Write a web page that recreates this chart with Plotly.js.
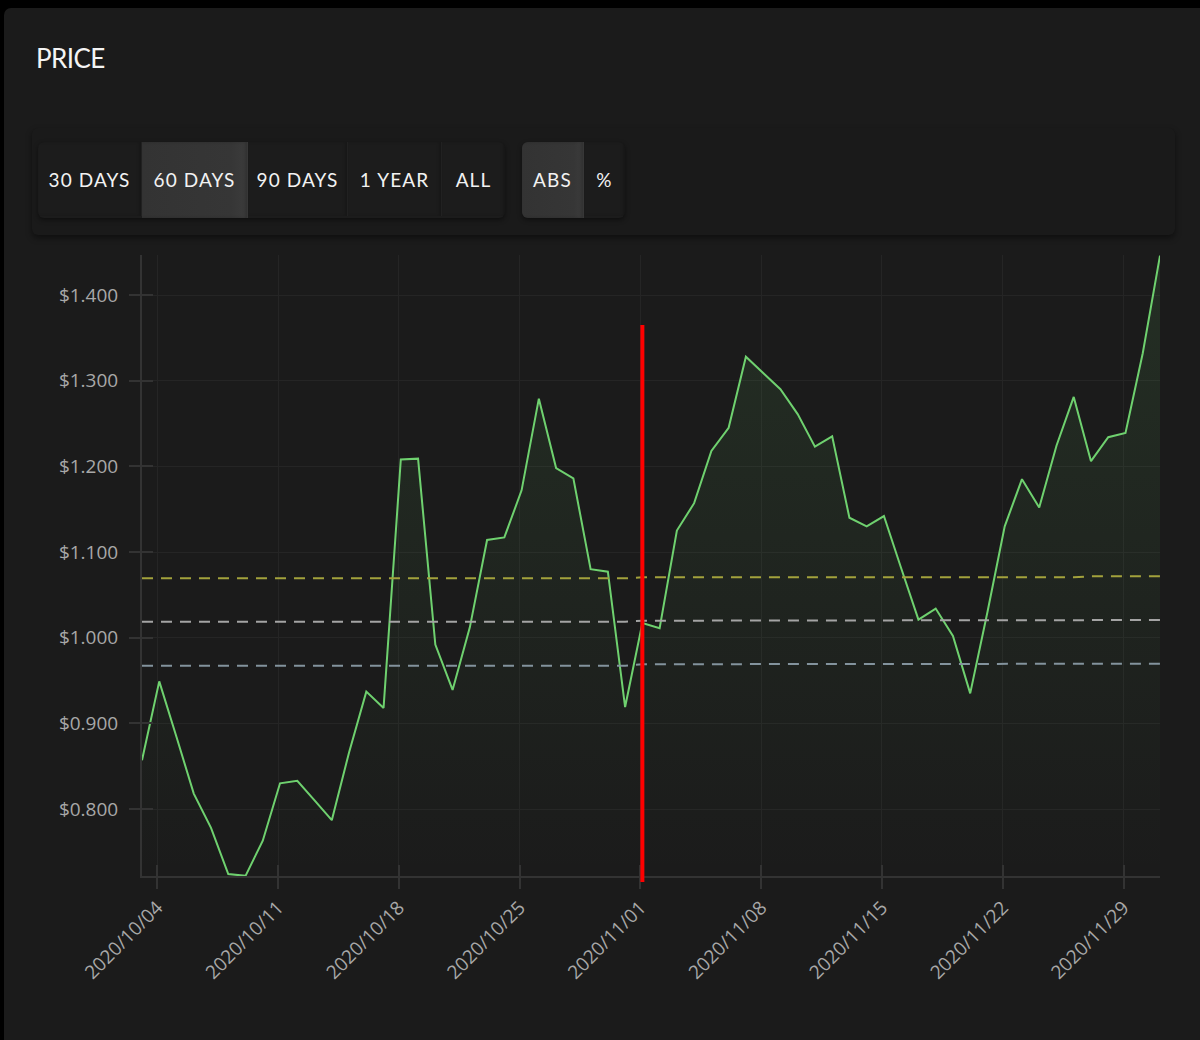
<!DOCTYPE html>
<html>
<head>
<meta charset="utf-8">
<script src="https://cdn.plot.ly/plotly-3.0.1.min.js"></script>
<style>
  html, body { margin: 0; padding: 0; background: #000; width: 1200px; height: 1040px; overflow: hidden; }
  .card { position: absolute; left: 4px; top: 8px; width: 1196px; height: 1032px; background: #1b1b1b; border-radius: 7px 0 0 0; }
  .title { position: absolute; left: 36px; top: 44px; font-family: Lato, "Noto Sans", sans-serif; font-size: 26px; line-height: 28px; color: #f4f4f4; letter-spacing: -0.6px; }
  .toolbar { position: absolute; left: 32px; top: 128px; width: 1143px; height: 107px; background: #1a1a1a; border-radius: 6px; box-shadow: 0 3px 6px rgba(0,0,0,0.45); }
  .group { position: absolute; top: 142px; height: 76px; display: flex; background: #1c1c1c; border-radius: 6px; overflow: hidden; box-shadow: 0 2px 5px rgba(0,0,0,0.45); }
  .btn { height: 74px; display: flex; align-items: center; justify-content: center; font-family: Lato, "Noto Sans", sans-serif; font-size: 19px; letter-spacing: 1.1px; color: #f2f2f2; box-sizing: border-box; border-right: 1px solid rgba(255,255,255,0.025); box-shadow: inset -2px 0 3px rgba(0,0,0,0.18); }
  .btn.active { height: 76px; padding-bottom: 2px; background: linear-gradient(90deg, #333 0%, #363636 85%, #3c3c3c 100%); }
  #plot { position: absolute; left: 0; top: 0; width: 1200px; height: 1040px; }
</style>
</head>
<body>
<div class="card"></div>
<div class="title">PRICE</div>
<div class="toolbar"></div>
<div class="group" style="left:38px; width:467px;">
  <div class="btn" style="width:104px;">30 DAYS</div>
  <div class="btn active" style="width:106px;">60 DAYS</div>
  <div class="btn" style="width:100px;">90 DAYS</div>
  <div class="btn" style="width:94px;">1 YEAR</div>
  <div class="btn" style="width:63px; border-right:none;">ALL</div>
</div>
<div class="group" style="left:522px; width:103px;">
  <div class="btn active" style="width:62px;">ABS</div>
  <div class="btn" style="width:41px; border-right:none;">%</div>
</div>
<div id="plot"></div>
<script>
// ---- data ----
const dates = [
  '2020-10-03 02:45','2020-10-04 02:45','2020-10-05 02:45','2020-10-06 02:45','2020-10-07 02:45',
  '2020-10-08 02:45','2020-10-09 02:45','2020-10-10 02:45','2020-10-11 02:45','2020-10-12 02:45',
  '2020-10-13 02:45','2020-10-14 02:45','2020-10-15 02:45','2020-10-16 02:45','2020-10-17 02:45',
  '2020-10-18 02:45','2020-10-19 02:45','2020-10-20 02:45','2020-10-21 02:45','2020-10-22 02:45',
  '2020-10-23 02:45','2020-10-24 02:45','2020-10-25 02:45','2020-10-26 02:45','2020-10-27 02:45',
  '2020-10-28 02:45','2020-10-29 02:45','2020-10-30 02:45','2020-10-31 02:45','2020-11-01 02:45',
  '2020-11-02 02:45','2020-11-03 02:45','2020-11-04 02:45','2020-11-05 02:45','2020-11-06 02:45',
  '2020-11-07 02:45','2020-11-08 02:45','2020-11-09 02:45','2020-11-10 02:45','2020-11-11 02:45',
  '2020-11-12 02:45','2020-11-13 02:45','2020-11-14 02:45','2020-11-15 02:45','2020-11-16 02:45',
  '2020-11-17 02:45','2020-11-18 02:45','2020-11-19 02:45','2020-11-20 02:45','2020-11-21 02:45',
  '2020-11-22 02:45','2020-11-23 02:45','2020-11-24 02:45','2020-11-25 02:45','2020-11-26 02:45',
  '2020-11-27 02:45','2020-11-28 02:45','2020-11-29 02:45','2020-11-30 02:45','2020-12-01 02:45'
];
const price = [
  0.857, 0.949, 0.884, 0.818, 0.778, 0.724, 0.722, 0.763, 0.830, 0.833,
  0.810, 0.787, 0.866, 0.937, 0.918, 1.208, 1.209, 0.992, 0.939, 1.012,
  1.114, 1.117, 1.172, 1.279, 1.198, 1.186, 1.080, 1.077, 0.919, 1.017,
  1.011, 1.125, 1.157, 1.218, 1.245, 1.328, 1.309, 1.290, 1.261, 1.223,
  1.235, 1.140, 1.130, 1.142, 1.081, 1.021, 1.034, 1.002, 0.935, 1.030,
  1.130, 1.185, 1.152, 1.224, 1.281, 1.206, 1.234, 1.239, 1.332, 1.446
];
const upperBand = [
  1.0693, 1.0693, 1.0693, 1.0693, 1.0693, 1.0693, 1.0693, 1.0693, 1.0693, 1.0693,
  1.0693, 1.0693, 1.0693, 1.0693, 1.0693, 1.0693, 1.0693, 1.0693, 1.0693, 1.0693,
  1.0693, 1.0693, 1.0693, 1.0693, 1.0693, 1.0693, 1.0693, 1.0693, 1.0693, 1.0705,
  1.0705, 1.0705, 1.0705, 1.0705, 1.0705, 1.0705, 1.0705, 1.0705, 1.0705, 1.0705,
  1.0705, 1.0705, 1.0705, 1.0705, 1.0705, 1.0705, 1.0705, 1.0705, 1.0705, 1.0705,
  1.0705, 1.0705, 1.0705, 1.0705, 1.0705, 1.0716, 1.0716, 1.0716, 1.0716, 1.0716
];
const middleBand = [
  1.0186, 1.0186, 1.0186, 1.0186, 1.0186, 1.0186, 1.0186, 1.0186, 1.0186, 1.0186,
  1.0186, 1.0186, 1.0186, 1.0186, 1.0186, 1.0186, 1.0186, 1.0186, 1.0186, 1.0186,
  1.0186, 1.0186, 1.0186, 1.0186, 1.0186, 1.0186, 1.0186, 1.0186, 1.0186, 1.0198,
  1.0198, 1.0198, 1.0198, 1.0198, 1.0198, 1.0198, 1.0198, 1.0198, 1.0198, 1.0198,
  1.0198, 1.0198, 1.0198, 1.0198, 1.0198, 1.0198, 1.0198, 1.0198, 1.0198, 1.0198,
  1.0198, 1.0198, 1.0198, 1.0198, 1.0198, 1.0206, 1.0206, 1.0206, 1.0206, 1.0206
];
const lowerBand = [
  0.9673, 0.9673, 0.9673, 0.9673, 0.9673, 0.9673, 0.9673, 0.9673, 0.9673, 0.9673,
  0.9673, 0.9673, 0.9673, 0.9673, 0.9673, 0.9673, 0.9673, 0.9673, 0.9673, 0.9673,
  0.9673, 0.9673, 0.9673, 0.9673, 0.9673, 0.9673, 0.9673, 0.9673, 0.9673, 0.9690,
  0.9690, 0.9690, 0.9690, 0.9690, 0.9690, 0.9690, 0.9690, 0.9690, 0.9690, 0.9690,
  0.9690, 0.9690, 0.9690, 0.9690, 0.9690, 0.9690, 0.9690, 0.9690, 0.9690, 0.9690,
  0.9690, 0.9690, 0.9690, 0.9690, 0.9690, 0.9696, 0.9696, 0.9696, 0.9696, 0.9696
];
const markerDate = '2020-11-01 02:45';
const markerTop = 1.365;
const yRange = [0.7218, 1.4467];
const xRange = [dates[0], dates[dates.length - 1]];
const tickStart = '2020-10-04';

// ---- chart ----
const bandLine = (y, color) => ({
  x: dates, y: y, type: 'scatter', mode: 'lines', hoverinfo: 'skip',
  line: { color: color, width: 2, dash: '11px,8px' }
});

const traces = [
  {
    x: dates, y: price, type: 'scatter', mode: 'lines', fill: 'tozeroy',
    fillgradient: { type: 'vertical', start: yRange[0], stop: yRange[1],
      colorscale: [[0, 'rgba(110,210,110,0.0)'], [1, 'rgba(110,210,110,0.11)']] },
    line: { color: '#6fd16f', width: 2 }, hoverinfo: 'skip'
  },
  bandLine(upperBand, '#a3a23c'),
  bandLine(middleBand, '#a4a4a4'),
  bandLine(lowerBand, '#83939d'),
  { x: [], y: [], xaxis: 'x2', yaxis: 'y2', type: 'scatter', mode: 'lines', hoverinfo: 'skip' }
];

const tickFont = { family: '"Open Sans", "Noto Sans", sans-serif', size: 19, color: '#a8a8a8' };
const frac = (markerTop - yRange[0]) / (yRange[1] - yRange[0]);

const layout = {
  width: 1200, height: 1040,
  margin: { l: 142, r: 40, t: 255, b: 164 },
  paper_bgcolor: 'rgba(0,0,0,0)', plot_bgcolor: 'rgba(0,0,0,0)',
  showlegend: false,
  xaxis: {
    type: 'date', range: xRange, tick0: tickStart, dtick: 7 * 86400000,
    tickformat: '%Y/%m/%d', tickangle: -45, tickfont: tickFont,
    showgrid: true, gridcolor: '#252525', gridwidth: 1,
    showline: true, linecolor: '#333333', linewidth: 2,
    ticks: 'outside', ticklen: 11, tickcolor: '#333333', tickwidth: 2,
    zeroline: false, fixedrange: true
  },
  yaxis: {
    range: yRange, dtick: 0.1, tick0: 0, tickprefix: '$', tickformat: '.3f',
    tickfont: tickFont, ticklabelstandoff: 7,
    showgrid: true, gridcolor: '#252525', gridwidth: 1,
    showline: true, linecolor: '#333333', linewidth: 2,
    ticks: 'outside', ticklen: 11, tickcolor: '#333333', tickwidth: 2,
    zeroline: false, fixedrange: true
  },
  xaxis2: {
    type: 'date', overlaying: 'x', range: xRange, tick0: tickStart, dtick: 7 * 86400000,
    ticks: 'inside', ticklen: 11, tickcolor: '#333333', tickwidth: 2,
    showticklabels: false, showgrid: false, showline: false, zeroline: false, fixedrange: true
  },
  yaxis2: {
    overlaying: 'y', range: yRange, dtick: 0.1, tick0: 0,
    ticks: 'inside', ticklen: 11, tickcolor: '#333333', tickwidth: 2,
    showticklabels: false, showgrid: false, showline: false, zeroline: false, fixedrange: true
  },
  shapes: [{
    type: 'line', xref: 'x', yref: 'paper', x0: markerDate, x1: markerDate,
    y0: -0.0097, y1: frac, line: { color: '#ff0000', width: 4 }, layer: 'above'
  }]
};

Plotly.newPlot('plot', traces, layout, { displayModeBar: false, staticPlot: true });
</script>
</body>
</html>
